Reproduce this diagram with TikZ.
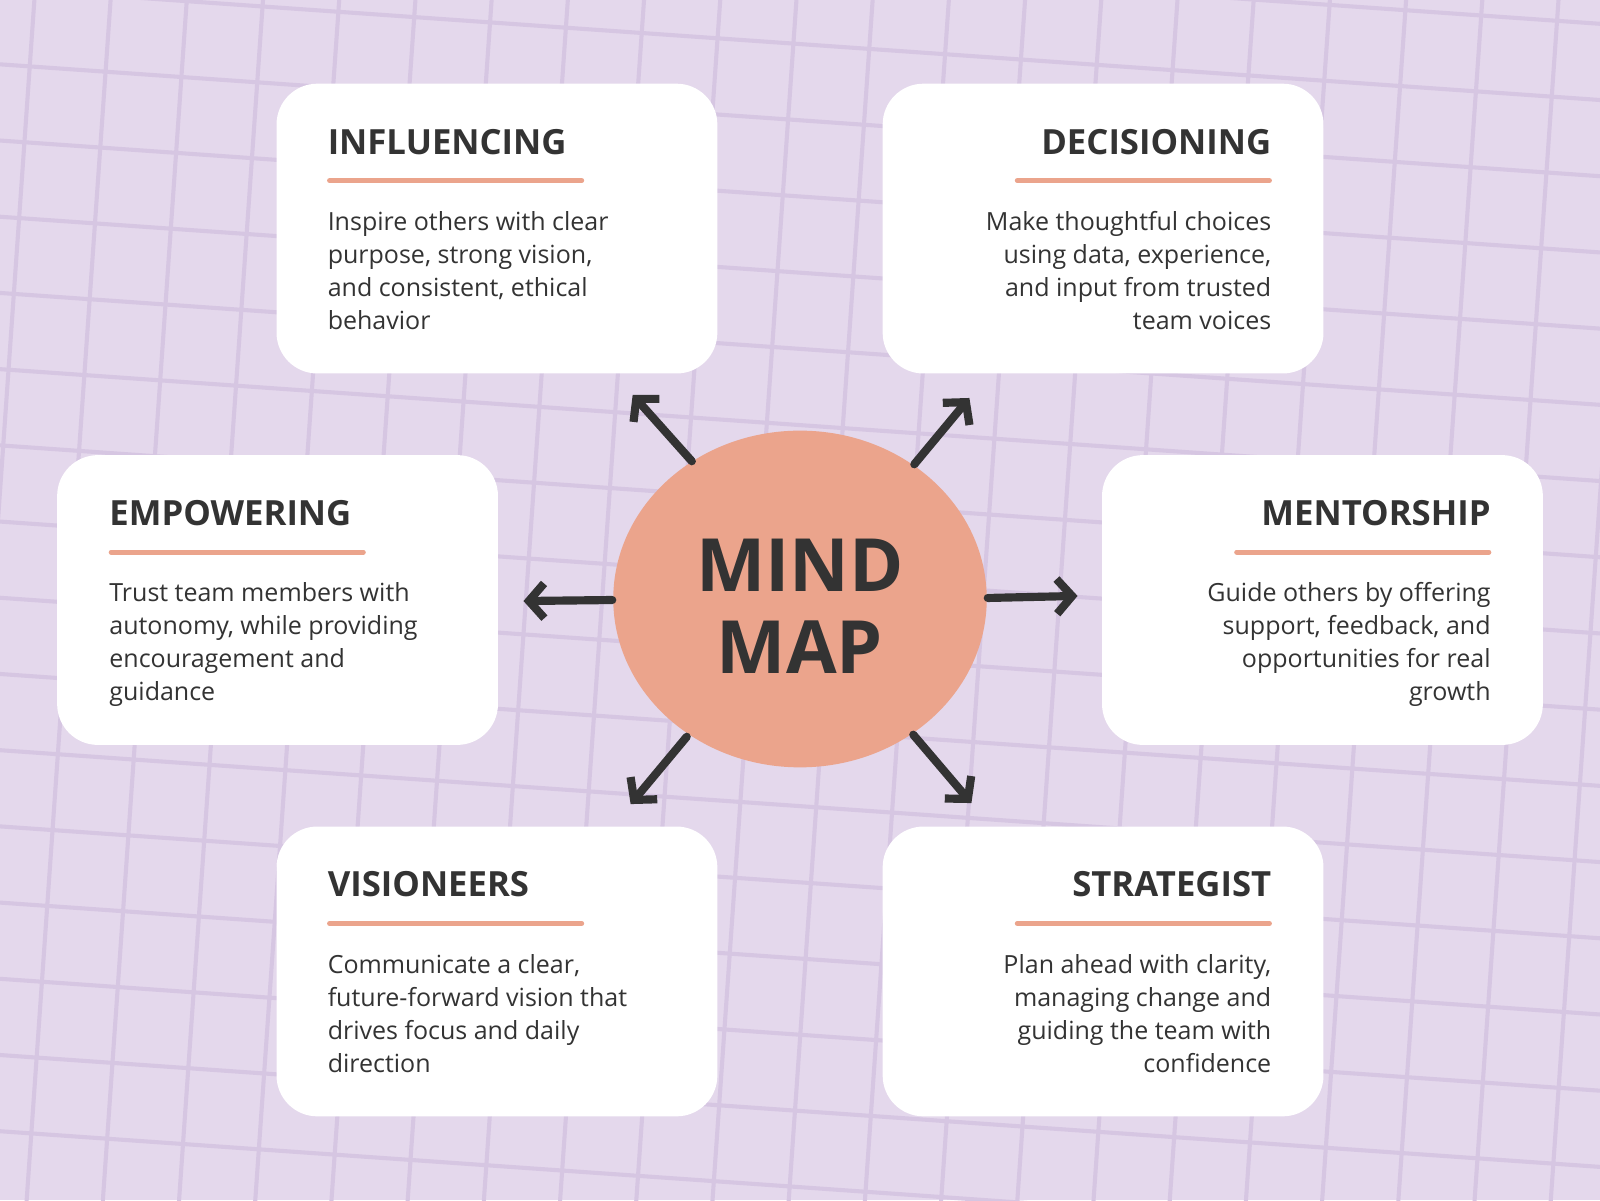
\documentclass[tikz,border=0pt]{standalone}
\usepackage{fontspec}
\setmainfont{Open Sans}
\usetikzlibrary{arrows.meta,shapes.geometric}
\definecolor{bg}{HTML}{E4D8EC}
\definecolor{gridc}{HTML}{D6C6E2}
\definecolor{peach}{HTML}{EBA48C}
\definecolor{ink}{HTML}{333333}
\begin{document}
\begin{tikzpicture}[x=1pt,y=-1pt,
 card/.style={fill=white,rounded corners=40pt},
 ttl/.style={font=\fontsize{34}{38}\selectfont\bfseries,text=ink,inner sep=0},
 body/.style={font=\fontsize{24.5}{32.3}\selectfont,text=ink,inner sep=0},
 uline/.style={peach,line width=5pt,line cap=round},
 arr/.style={ink,line width=8pt,line cap=round,-{Straight Barb[length=15pt,width=34pt,line width=8pt]}}]
\useasboundingbox (0,0) rectangle (1568,1176);
\fill[bg] (0,0) rectangle (1568,1176);
\begin{scope}
\clip (0,0) rectangle (1568,1176);
\begin{scope}[rotate around={-4:(784,588)}]
\foreach \i in {-4,...,24} \draw[gridc,line width=4pt] (\i*74.5-80,-200) -- (\i*74.5-80,1400);
\foreach \j in {-4,...,20} \draw[gridc,line width=4pt] (-200,\j*74.5-30) -- (1800,\j*74.5-30);
\end{scope}
\end{scope}
% cards
\fill[card] (271,82) rectangle (703,366);
\fill[card] (865,82) rectangle (1297,366);
\fill[card] (56,446) rectangle (488,730);
\fill[card] (1080,446) rectangle (1512,730);
\fill[card] (271,810) rectangle (703,1094);
\fill[card] (865,810) rectangle (1297,1094);
% left-aligned cards
\node[ttl,anchor=base west] (t1) at (321,151) {INFLUENCING};
\draw[uline] (323,177) -- (570,177);
\node[body,anchor=north west,align=left] (b1) at (321,207) {Inspire others with clear\\purpose, strong vision,\\and consistent, ethical\\behavior};
\node[ttl,anchor=base west] (t3) at (107,515) {EMPOWERING};
\draw[uline] (109,541) -- (356,541);
\node[body,anchor=north west,align=left] (b3) at (107,571) {Trust team members with\\autonomy, while providing\\encouragement and\\guidance};
\node[ttl,anchor=base west] (t5) at (321,879) {VISIONEERS};
\draw[uline] (323,905) -- (570,905);
\node[body,anchor=north west,align=left] (b5) at (321,935) {Communicate a clear,\\future-forward vision that\\drives focus and daily\\direction};
% right-aligned cards
\node[ttl,anchor=base east] (t2) at (1246,151) {DECISIONING};
\draw[uline] (997,177) -- (1244,177);
\node[body,anchor=north east,align=right] (b2) at (1246,207) {Make thoughtful choices\\using data, experience,\\and input from trusted\\team voices};
\node[ttl,anchor=base east] (t4) at (1461,515) {MENTORSHIP};
\draw[uline] (1212,541) -- (1459,541);
\node[body,anchor=north east,align=right] (b4) at (1461,571) {Guide others by offering\\support, feedback, and\\opportunities for real\\growth};
\node[ttl,anchor=base east] (t6) at (1246,879) {STRATEGIST};
\draw[uline] (997,905) -- (1244,905);
\node[body,anchor=north east,align=right] (b6) at (1246,935) {Plan ahead with clarity,\\managing change and\\guiding the team with\\confidence};
% center
\node[ellipse,fill=peach,minimum width=366pt,minimum height=330pt,inner sep=0] (c) at (784,587) {};
\node[font=\fontsize{72}{80}\selectfont\bfseries,text=ink,align=center,inner sep=0] (ct) at (784,594) {MIND\\MAP};
% arrows
\coordinate (a1s) at (678,452); \coordinate (a1e) at (620,387);
\coordinate (a2s) at (896,455); \coordinate (a2e) at (950,390);
\coordinate (a3s) at (600,588); \coordinate (a3e) at (513,589);
\coordinate (a4s) at (968,586); \coordinate (a4e) at (1056,584);
\coordinate (a5s) at (673,722); \coordinate (a5e) at (618,788);
\coordinate (a6s) at (895,720); \coordinate (a6e) at (952,787);
\foreach \k in {1,...,6} \draw[arr] (a\k s) -- (a\k e);
\end{tikzpicture}
\end{document}
